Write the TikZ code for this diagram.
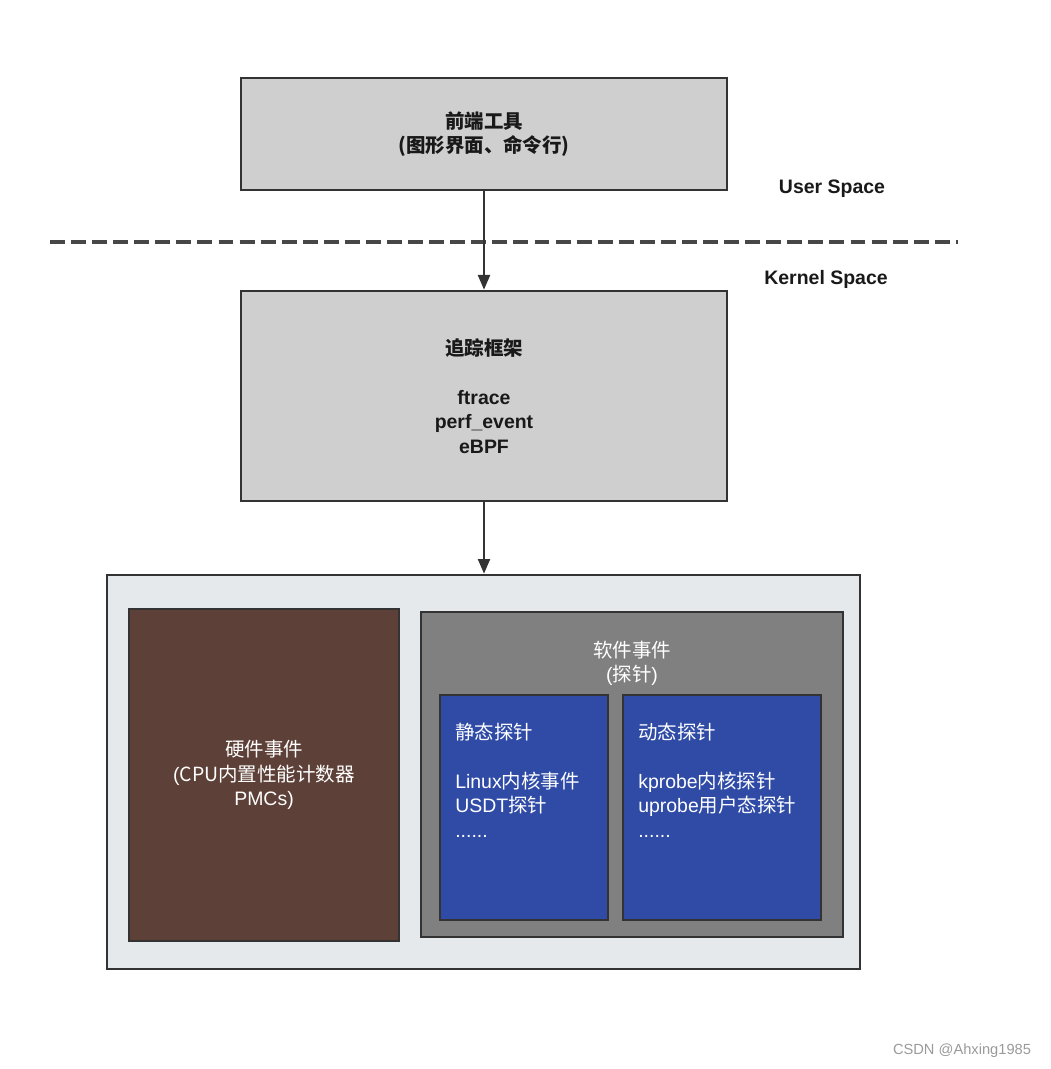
\documentclass[tikz,border=0pt]{standalone}
\usepackage{fontspec}
\setmainfont{Liberation Sans}
\newfontfamily\cjk{Noto Sans CJK SC}
\usetikzlibrary{arrows.meta}
\definecolor{boxgray}{HTML}{CFCFCF}
\definecolor{edgec}{HTML}{333333}
\definecolor{outerc}{HTML}{E6E9EC}
\definecolor{brownc}{HTML}{5D4037}
\definecolor{softc}{HTML}{808080}
\definecolor{bluec}{HTML}{2F4BA6}
\definecolor{wmc}{HTML}{9A9A9A}
\tikzset{
  box/.style={draw=edgec, line width=2pt, rectangle, inner sep=0pt},
  boldtxt/.style={font=\fontsize{14.6}{18.3}\selectfont\bfseries, text=black!90},
  whitetxt/.style={font=\fontsize{14.6}{18.3}\selectfont, text=white},
  arr/.style={draw=edgec, line width=1.6pt, -{Triangle[length=11pt,width=9pt]}},
}
\begin{document}
\begin{tikzpicture}[x=0.75pt,y=-0.75pt]
\useasboundingbox (0,0) rectangle (1050,1069);
% top box
\node[box, fill=boxgray, minimum width={486*0.75pt}, minimum height={112*0.75pt}, boldtxt, align=center]
  (front) at (484,134) {{\cjk 前端工具}\\{\cjk (图形界面、命令行)}};
% labels
\node[boldtxt, anchor=center] (user) at (832,189) {User Space};
\node[boldtxt, anchor=center] (kern) at (826,279) {Kernel Space};
\coordinate (dl) at (50,242);
\coordinate (dr) at (958,242);
\draw[draw=edgec!90, line width=2.4pt, dash pattern=on 11.2pt off 4.6pt] (dl) -- (dr);
% middle box
\node[box, fill=boxgray, minimum width={486*0.75pt}, minimum height={210*0.75pt}, boldtxt, align=center]
  (frame) at (484,396) {{\cjk 追踪框架}\\ \mbox{}\\ftrace\\perf\_event\\eBPF};
% outer box
\node[box, fill=outerc, minimum width={753*0.75pt}, minimum height={394*0.75pt}]
  (outer) at (483.5,772) {};
% hardware
\node[box, fill=brownc, minimum width={270*0.75pt}, minimum height={332*0.75pt}, whitetxt, align=center]
  (hw) at (264,775) {{\cjk 硬件事件}\\({\cjk CPU内置性能计数器}\\PMCs)};
% software
\node[box, fill=softc, minimum width={422*0.75pt}, minimum height={325*0.75pt}]
  (sw) at (632,774.5) {};
\node[whitetxt, align=center] (swt) at (632,663.5) {{\cjk 软件事件}\\({\cjk 探针})};
% static
\node[box, fill=bluec, minimum width={168*0.75pt}, minimum height={225*0.75pt}]
  (st) at (524,807.5) {};
\node[whitetxt, align=left, anchor=north west, inner sep=0pt] (stt) at (455,723)
  {{\cjk 静态探针}\\ \mbox{}\\Linux{\cjk 内核事件}\\USDT{\cjk 探针}\\......};
% dynamic
\node[box, fill=bluec, minimum width={198*0.75pt}, minimum height={225*0.75pt}]
  (dy) at (722,807.5) {};
\node[whitetxt, align=left, anchor=north west, inner sep=0pt] (dyt) at (638,723)
  {{\cjk 动态探针}\\ \mbox{}\\kprobe{\cjk 内核探针}\\uprobe{\cjk 用户态探针}\\......};
% arrows
\draw[arr] (front.south) -- (frame.north);
\draw[arr] (frame.south) -- (frame.south |- outer.north);
% watermark
\node[font=\fontsize{11}{13}\selectfont, text=wmc] (wm) at (962,1051) {CSDN @Ahxing1985};
\end{tikzpicture}
\end{document}
